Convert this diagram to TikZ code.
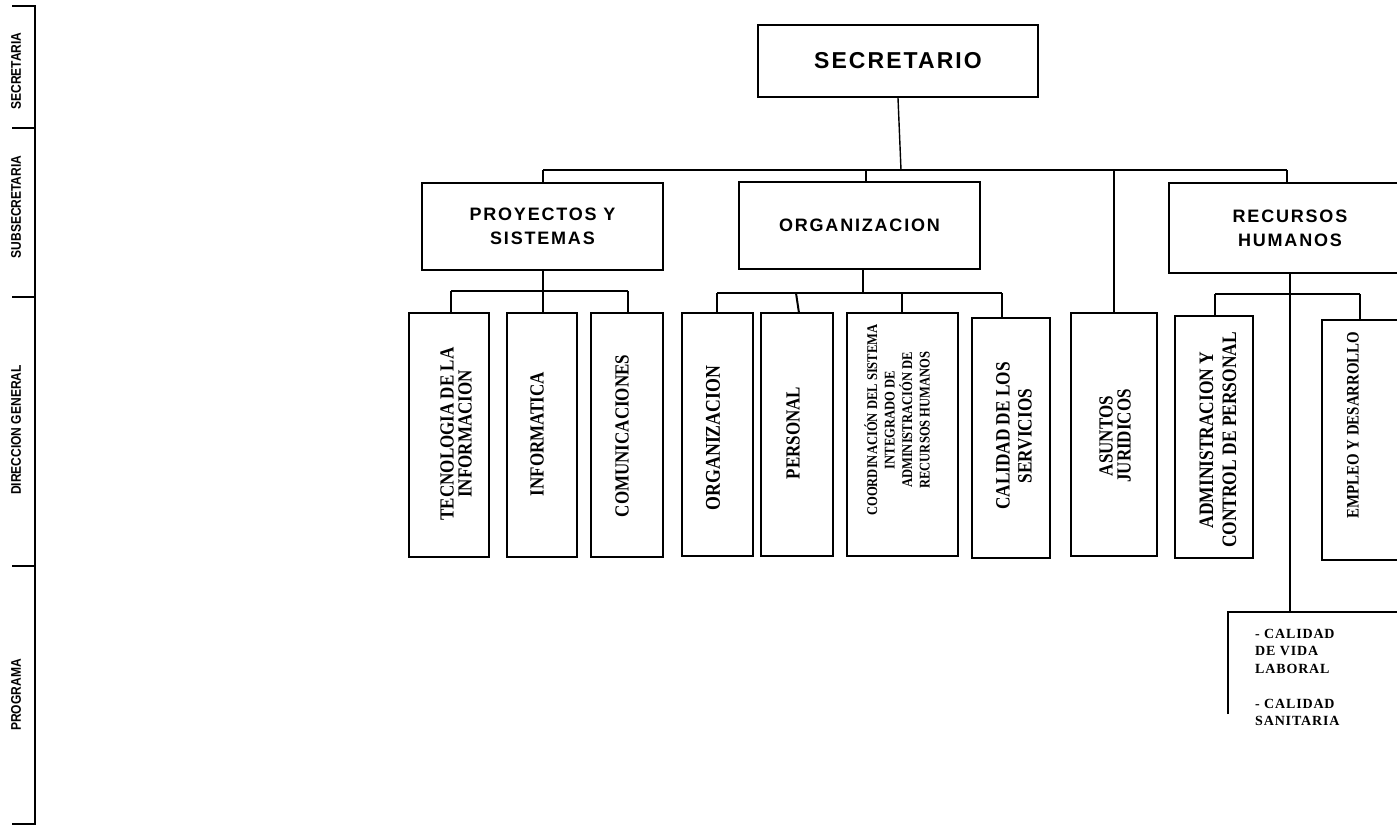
\documentclass[tikz,border=0pt]{standalone}
\usepackage{fontspec}
\setmainfont{Liberation Serif}
\newfontfamily\hsans[LetterSpace=10]{Liberation Sans}
\newfontfamily\hsansbig[LetterSpace=9]{Liberation Sans}
\newfontfamily\rsans[FakeStretch=0.86]{Liberation Sans}
\newfontfamily\cserif[FakeStretch=0.85]{Liberation Serif}
\newfontfamily\lserif[LetterSpace=6]{Liberation Serif}
\begin{document}
\begin{tikzpicture}[x=1pt,y=-1pt,
  bx/.style={draw, line width=2pt, rectangle, inner sep=0pt},
  conn/.style={line width=2pt},
  thinconn/.style={line width=1.4pt},
  htext/.style={font=\hsans\bfseries\fontsize{18}{24}\selectfont, align=center},
  vtext/.style={rotate=90, font=\cserif\bfseries\fontsize{20}{18}\selectfont, align=center, inner sep=0pt},
  ruler/.style={line width=2.3pt},
  rlabel/.style={rotate=90, font=\rsans\bfseries\fontsize{14}{16}\selectfont, inner sep=0pt}]
\useasboundingbox (0,0) rectangle (1397,827);
\clip (0,0) rectangle (1397,827);

% left ruler
\draw[ruler] (12,6) -- (35,6) -- (35,824) -- (12,824);
\draw[ruler] (12,128) -- (35,128);
\draw[ruler] (12,297) -- (35,297);
\draw[ruler] (12,566) -- (35,566);
\node[rlabel] (l1) at (16,71) {SECRETARIA};
\node[rlabel] (l2) at (16,207) {SUBSECRETARIA};
\node[rlabel] (l3) at (16,430) {DIRECCION GENERAL};
\node[rlabel] (l4) at (16,695) {PROGRAMA};

% top
\node[bx, minimum width=280pt, minimum height=72pt, font=\hsansbig\bfseries\fontsize{23}{27}\selectfont] (sec) at (898,61) {SECRETARIO};

% second level
\node[bx, minimum width=241pt, minimum height=87pt, htext] (proy) at (542.5,226.5) {PROYECTOS Y\\SISTEMAS};
\node[bx, minimum width=241pt, minimum height=87pt, htext] (org) at (859.5,225.5) {ORGANIZACION};
\node[bx, minimum width=86pt, minimum height=243pt] (asu) at (1114,434.5) {};
\node[bx, minimum width=242pt, minimum height=90pt, htext] (rh) at (1290,228) {RECURSOS\\HUMANOS};

% third level boxes
\node[bx, minimum width=80pt, minimum height=244pt] (tec) at (449,435) {};
\node[bx, minimum width=70pt, minimum height=244pt] (inf) at (542,435) {};
\node[bx, minimum width=72pt, minimum height=244pt] (com) at (627,435) {};
\node[bx, minimum width=71pt, minimum height=243pt] (or2) at (717.5,434.5) {};
\node[bx, minimum width=72pt, minimum height=243pt] (per) at (797,434.5) {};
\node[bx, minimum width=111pt, minimum height=243pt] (coo) at (902.5,434.5) {};
\node[bx, minimum width=78pt, minimum height=240pt] (cal) at (1011,438) {};
\node[bx, minimum width=78pt, minimum height=242pt] (adm) at (1214,437) {};
\node[bx, minimum width=98pt, minimum height=240pt] (emp) at (1371,440) {};

% vertical texts
\node[vtext] (ttec) at (456,434) {TECNOLOGIA DE LA\\INFORMACION};
\node[vtext] (tinf) at (537,434) {INFORMATICA};
\node[vtext] (tcom) at (622,436) {COMUNICACIONES};
\node[vtext, font=\cserif\bfseries\fontsize{21}{18}\selectfont] (tor2) at (713,438) {ORGANIZACION};
\node[vtext] (tper) at (793,433) {PERSONAL};
\node[vtext, font=\cserif\bfseries\fontsize{14.8}{17.5}\selectfont] (tcoo) at (897,420) {COORDINACIÓN DEL SISTEMA\\INTEGRADO DE\\ADMINISTRACIÓN DE\\RECURSOS HUMANOS};
\node[vtext, font=\cserif\bfseries\fontsize{20.3}{22}\selectfont] (tcal) at (1014,436) {CALIDAD DE LOS\\SERVICIOS};
\node[vtext] (tasu) at (1115,436) {ASUNTOS\\JURIDICOS};
\node[vtext, font=\cserif\bfseries\fontsize{20.5}{23}\selectfont] (tadm) at (1218,440) {ADMINISTRACION Y\\CONTROL DE PERSONAL};
\node[vtext, font=\cserif\bfseries\fontsize{17.5}{18}\selectfont] (temp) at (1353,425) {EMPLEO Y DESARROLLO};

% programa box (partial)
\coordinate (cq) at (1290,612);
\coordinate (ctl) at (1228,612);
\draw[conn] (ctl |- 0,714) -- (ctl) -- (1400,612);
\node[anchor=north west, align=left, inner sep=0pt, font=\lserif\bfseries\fontsize{14}{17.5}\selectfont] (prog) at (1255,629) {- CALIDAD\\DE VIDA\\LABORAL\\[17.5pt]- CALIDAD\\SANITARIA};

% connectors level 1
\coordinate (bus) at (901,170);
\coordinate (bl) at (543,170);
\coordinate (br) at (1287,170);
\coordinate (bo) at (866,170);
\draw[thinconn] (sec.south) -- (bus);
\draw[conn] (bl) -- (br);
\draw[conn] (bl) -- (bl |- proy.north);
\draw[conn] (bo) -- (bo |- org.north);
\draw[conn] (asu.north |- bus) -- (asu.north);
\draw[conn] (br) -- (br |- rh.north);

% PROYECTOS sub
\coordinate (pb) at (543,291);
\coordinate (p1) at (451,291);
\coordinate (p3) at (628,291);
\draw[conn] (pb |- proy.south) -- (pb);
\draw[conn] (p1) -- (p3);
\draw[conn] (p1) -- (p1 |- tec.north);
\draw[conn] (pb) -- (pb |- inf.north);
\draw[conn] (p3) -- (p3 |- com.north);

% ORGANIZACION sub
\coordinate (ob) at (863,293);
\coordinate (o1) at (717,293);
\coordinate (o2) at (796,293);
\coordinate (o3) at (902,293);
\coordinate (o4) at (1002,293);
\draw[conn] (ob |- org.south) -- (ob);
\draw[conn] (o1) -- (o4);
\draw[conn] (o1) -- (o1 |- or2.north);
\draw[conn] (o2) -- (799,313);
\draw[conn] (o3) -- (o3 |- coo.north);
\draw[conn] (o4) -- (o4 |- cal.north);

% RECURSOS HUMANOS sub
\coordinate (r1) at (1215,294);
\coordinate (r2) at (1360,294);
\draw[thinconn] (rh.south) -- (cq);
\draw[conn] (r1) -- (r2);
\draw[conn] (r1) -- (r1 |- adm.north);
\draw[conn] (r2) -- (r2 |- emp.north);
\end{tikzpicture}
\end{document}
